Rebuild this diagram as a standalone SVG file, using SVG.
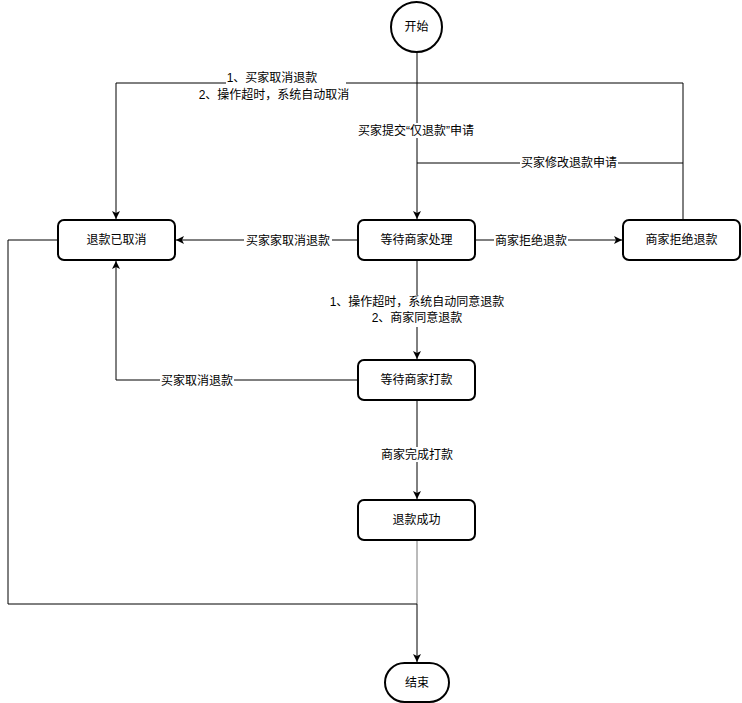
<svg xmlns="http://www.w3.org/2000/svg" width="742" height="703" viewBox="0 0 742 703">
<style>
.n{fill:#fff;stroke:#000;stroke-width:2}
.t{font-family:"Liberation Sans","Noto Sans CJK SC",sans-serif;font-size:12px;text-anchor:middle;dominant-baseline:central;fill:#000}
.e{fill:none;stroke:#000;stroke-width:1}
.lb{fill:#fff}
</style>
<defs><marker id="a" markerWidth="10" markerHeight="10" refX="8" refY="5" orient="auto" markerUnits="userSpaceOnUse"><path d="M0,1 L8,5 L0,9 L2,5 Z" fill="#000"/></marker></defs>
<rect width="742" height="703" fill="#fff"/>
<g id="edges">
<path class="e" d="M417,52 V219" marker-end="url(#a)"/>
<path class="e" d="M683,220 V83 H116 V219" marker-end="url(#a)"/>
<path class="e" d="M683,163 H417"/>
<path class="e" d="M358,240 H176" marker-end="url(#a)"/>
<path class="e" d="M475,240 H622" marker-end="url(#a)"/>
<path class="e" d="M417,260 V359" marker-end="url(#a)"/>
<path class="e" d="M358,380 H116 V261" marker-end="url(#a)"/>
<path class="e" d="M417,400 V499" marker-end="url(#a)"/>
<path class="e" d="M417,540 V604" stroke="#777" style="stroke:#777"/>
<path class="e" d="M58,240 H8 V604 H417 V662" marker-end="url(#a)"/>
<rect class="lb" x="226" y="71" width="120" height="32"/>
<text class="t" x="272" y="78">1、买家取消退款</text>
<text class="t" x="274" y="95">2、操作超时，系统自动取消</text>
<rect class="lb" x="357" y="123" width="120" height="15"/>
<text class="t" x="416" y="131">买家提交“仅退款”申请</text>
<rect class="lb" x="520" y="156" width="98" height="15"/>
<text class="t" x="569" y="163">买家修改退款申请</text>
<rect class="lb" x="244" y="233" width="88" height="15"/>
<text class="t" x="288" y="241">买家家取消退款</text>
<rect class="lb" x="494" y="233" width="74" height="15"/>
<text class="t" x="531" y="241">商家拒绝退款</text>
<rect class="lb" x="330" y="295" width="176" height="32"/>
<text class="t" x="417" y="302">1、操作超时，系统自动同意退款</text>
<text class="t" x="417" y="318">2、商家同意退款</text>
<rect class="lb" x="160" y="373" width="74" height="15"/>
<text class="t" x="197" y="381">买家取消退款</text>
<rect class="lb" x="380" y="447" width="74" height="15"/>
<text class="t" x="417" y="455">商家完成打款</text>
</g>
<g id="start"><ellipse class="n" cx="416.5" cy="27" rx="25.5" ry="25"/><text class="t" x="416.5" y="27">开始</text></g>
<g id="cancelled"><rect class="n" x="58" y="220" width="117" height="40" rx="6"/><text class="t" x="116.5" y="240">退款已取消</text></g>
<g id="waitProcess"><rect class="n" x="358" y="220" width="117" height="40" rx="6"/><text class="t" x="416.5" y="240">等待商家处理</text></g>
<g id="rejected"><rect class="n" x="623" y="220" width="117" height="40" rx="6"/><text class="t" x="681.5" y="240">商家拒绝退款</text></g>
<g id="waitPay"><rect class="n" x="358" y="360" width="117" height="40" rx="6"/><text class="t" x="416.5" y="380">等待商家打款</text></g>
<g id="success"><rect class="n" x="358" y="500" width="117" height="40" rx="6"/><text class="t" x="416.5" y="520">退款成功</text></g>
<g id="end"><rect class="n" x="385" y="663" width="64" height="39" rx="19.5"/><text class="t" x="417" y="683">结束</text></g>
</svg>
